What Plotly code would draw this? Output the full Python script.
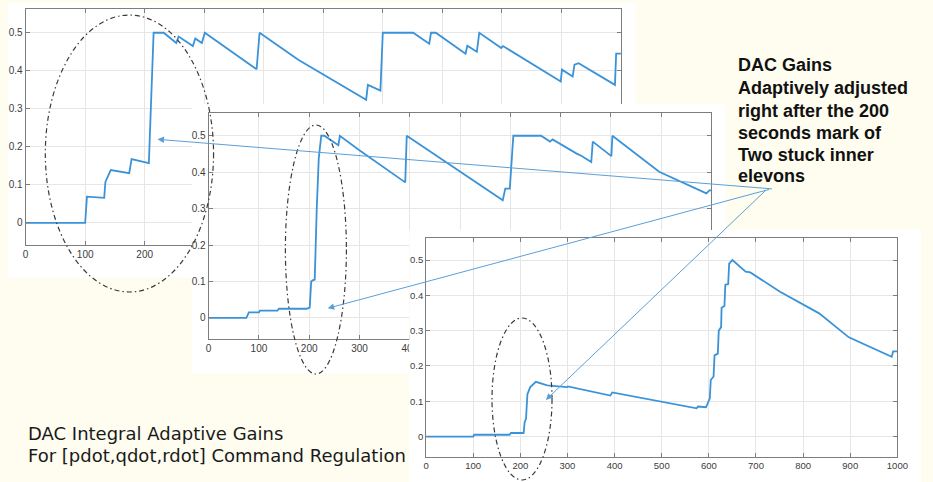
import plotly.graph_objects as go

W, H = 933, 482

# ---------------- data ----------------
# Panel 1 : top-left gain history
t1 = [0, 100, 103, 132, 134, 143, 174, 178, 207, 215, 232, 253, 257, 281, 285, 296, 301,
      388, 393, 458, 572, 575, 596, 600, 651, 678, 681, 689, 739, 742, 758, 762, 799, 802,
      899, 901, 919, 922, 929, 990, 992, 1000]
g1 = [0, 0, 0.069, 0.066, 0.108, 0.139, 0.131, 0.168, 0.157, 0.5, 0.5, 0.473, 0.49, 0.465,
      0.485, 0.473, 0.5, 0.404, 0.5, 0.429, 0.324, 0.363, 0.348, 0.5, 0.5, 0.471, 0.5, 0.5,
      0.445, 0.466, 0.45, 0.5, 0.46, 0.465, 0.372, 0.403, 0.385, 0.416, 0.42, 0.363, 0.445,
      0.445]

# Panel 2 : middle gain history
t2 = [0, 75, 80, 100, 102, 137, 140, 195, 201, 204, 207, 211, 215, 219, 224, 230, 258, 261,
      297, 391, 394, 585, 590, 599, 606, 661, 679, 684, 732, 741, 761, 764, 801, 803, 896,
      990, 996, 1000]
g2 = [0, 0, 0.015, 0.015, 0.02, 0.02, 0.025, 0.025, 0.028, 0.1, 0.103, 0.105, 0.3, 0.438,
      0.5, 0.5, 0.474, 0.5, 0.463, 0.372, 0.5, 0.323, 0.355, 0.355, 0.5, 0.5, 0.484, 0.49,
      0.451, 0.445, 0.428, 0.484, 0.444, 0.5, 0.401, 0.342, 0.35, 0.35]

# Panel 3 : bottom-right gain history
t3 = [0, 100, 102, 177, 180, 207, 209, 212, 215, 221, 233, 257, 299, 301, 391, 395, 574,
      577, 594, 600, 602, 604, 610, 612, 619, 621, 626, 627, 633, 635, 641, 643, 650, 678,
      688, 751, 778, 834, 897, 988, 991, 1000]
g3 = [0, 0, 0.005, 0.005, 0.01, 0.01, 0.04, 0.05, 0.12, 0.14, 0.155, 0.145, 0.14, 0.142,
      0.116, 0.125, 0.08, 0.085, 0.083, 0.1, 0.108, 0.16, 0.17, 0.23, 0.235, 0.3, 0.31,
      0.365, 0.37, 0.43, 0.432, 0.49, 0.5, 0.467, 0.465, 0.41, 0.39, 0.349, 0.281, 0.226,
      0.241, 0.241]

x_ticks = [0, 100, 200, 300, 400, 500, 600, 700, 800, 900, 1000]
x_tick_labels = [str(v) for v in x_ticks]
y_ticks = [0, 0.1, 0.2, 0.3, 0.4, 0.5]
y_tick_labels = ["0", "0.1", "0.2", "0.3", "0.4", "0.5"]

note_lines = ["DAC Gains", "Adaptively adjusted", "right after the 200",
              "seconds mark of", "Two stuck inner", "elevons"]
caption_lines = ["DAC Integral Adaptive Gains",
                 "For [pdot,qdot,rdot] Command Regulation"]

# ---------------- layout helpers ----------------
def fx(px):
    return px / W

def fy(py):
    return 1 - py / H

BG = "#fefdf0"
LINE = "#3a93d8"
ARROW = "#5b9fd8"
X_RANGE = [0, 1000]
Y_RANGE = [-0.058, 0.5625]

# plot areas (left, right, top, bottom, tick font size) in pixels
panels = [(23, 628, 9, 245, 10), (209, 720, 113, 339, 10), (430, 909, 238, 457, 9.5)]
# white cards covering lower panels (left, right, top, bottom)
covers = [(192, 735, 104, 373), (413, 933, 230, 482)]


def axis_style(domain, is_x, anchor, fsize):
    d = dict(domain=domain, anchor=anchor, showline=True, linecolor="#7d7d7d", linewidth=1,
             mirror="ticks", ticks="inside", ticklen=4, tickcolor="#7d7d7d",
             showgrid=True, gridcolor="#e6e6e6", gridwidth=1, zeroline=False,
             tickfont=dict(family="Liberation Sans, Arial", size=fsize, color="#3c3c3c"),
             fixedrange=True)
    if is_x:
        d.update(range=X_RANGE, tickmode="array", tickvals=x_ticks, ticktext=x_tick_labels)
    else:
        d.update(range=Y_RANGE, tickmode="array", tickvals=y_ticks, ticktext=y_tick_labels)
    return d


def cover_axis(domain, anchor):
    return dict(domain=domain, anchor=anchor, range=[0, 1], visible=False, showgrid=False,
                zeroline=False, fixedrange=True)


fig = go.Figure()
series = [(t1, g1), (t2, g2), (t3, g3)]
layout_axes = {}

# order: panel1 (x/y), cover (x2/y2), panel2 (x3/y3), cover (x4/y4), panel3 (x5/y5)
axis_num = 1
for i, (t, g) in enumerate(series):
    if i > 0:
        cl, cr, ct, cb = covers[i - 1]
        n = axis_num
        fig.add_trace(go.Scatter(x=[0, 1, 1, 0, 0], y=[0, 0, 1, 1, 0], fill="toself",
                                 fillcolor="white", mode="lines", line=dict(width=0),
                                 hoverinfo="skip", showlegend=False,
                                 xaxis=f"x{n}", yaxis=f"y{n}"))
        layout_axes[f"xaxis{n}"] = cover_axis([fx(cl), fx(cr)], f"y{n}")
        layout_axes[f"yaxis{n}"] = cover_axis([fy(cb), fy(ct)], f"x{n}")
        axis_num += 1
    l, r, top, bot, fs = panels[i]
    n = axis_num
    xs = "x" if n == 1 else f"x{n}"
    ys = "y" if n == 1 else f"y{n}"
    fig.add_trace(go.Scatter(x=t, y=g, mode="lines", line=dict(color=LINE, width=1.8),
                             showlegend=False, hoverinfo="skip", xaxis=xs, yaxis=ys))
    kx = "xaxis" if n == 1 else f"xaxis{n}"
    ky = "yaxis" if n == 1 else f"yaxis{n}"
    layout_axes[kx] = axis_style([fx(l), fx(r)], True, ys, fs)
    layout_axes[ky] = axis_style([fy(bot), fy(top)], False, xs, fs)
    axis_num += 1

shapes = [dict(type="rect", xref="paper", yref="paper", x0=fx(5), x1=fx(643),
               y0=fy(278), y1=fy(3), fillcolor="white", line=dict(width=0), layer="below")]

ellipses = [(43, 214, 15, 292), (287, 349, 125, 374), (497, 558, 318, 480)]
for (x0, x1, y0, y1) in ellipses:
    shapes.append(dict(type="circle", xref="paper", yref="paper", x0=fx(x0), x1=fx(x1),
                       y0=fy(y1), y1=fy(y0), fillcolor="rgba(0,0,0,0)",
                       line=dict(color="#3a3a3a", width=1.2, dash="5px,3px,1.5px,3px"),
                       layer="above"))

annotations = []
tail = (773, 189)
heads = [(157, 139.3), (330, 308.3), (551.7, 400)]
for hx, hy in heads:
    annotations.append(dict(x=fx(hx), y=fy(hy), xref="paper", yref="paper",
                            ax=tail[0] - hx, ay=tail[1] - hy, axref="pixel", ayref="pixel",
                            text="", showarrow=True, arrowhead=2, arrowsize=1.3,
                            arrowwidth=1, arrowcolor=ARROW, standoff=0))

note_y = [65, 88.3, 111, 133, 155, 176.3]
for txt, yy in zip(note_lines, note_y):
    annotations.append(dict(x=fx(746), y=fy(yy), xref="paper", yref="paper",
                            xanchor="left", yanchor="middle", showarrow=False,
                            text=f"<b>{txt}</b>", borderpad=0,
                            font=dict(family="Liberation Sans, Arial", size=18,
                                      color="#111111")))

cap_y = [433.3, 455.7]
for txt, yy in zip(caption_lines, cap_y):
    annotations.append(dict(x=fx(24), y=fy(yy), xref="paper", yref="paper",
                            xanchor="left", yanchor="middle", showarrow=False,
                            text=txt, borderpad=0,
                            font=dict(family="DejaVu Sans", size=18, color="#1a1a1a")))

fig.update_layout(width=W, height=H, autosize=False,
                  margin=dict(l=0, r=0, t=0, b=0, pad=0),
                  paper_bgcolor=BG, plot_bgcolor="white",
                  showlegend=False, shapes=shapes, annotations=annotations,
                  **layout_axes)

fig.write_html("out.html", config={"displayModeBar": False, "staticPlot": True},
               post_script="document.body.style.margin='0';"
                           "document.body.style.background='" + BG + "';")
